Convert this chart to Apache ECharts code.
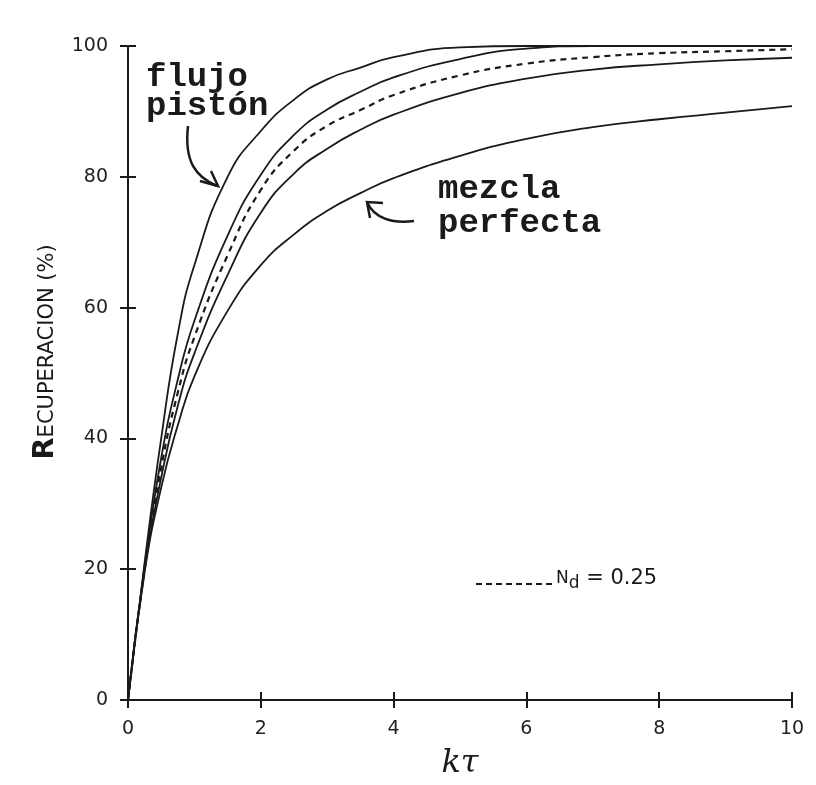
<!DOCTYPE html>
<html>
<head>
<meta charset="utf-8">
<script src="https://cdn.jsdelivr.net/npm/echarts@6/dist/echarts.min.js"></script>
<style>
  html, body { margin: 0; padding: 0; background: #fff; }
  #chart { width: 816px; height: 785px; }
</style>
</head>
<body>
<div id="chart"></div>
<script>
// kτ values where the curves were read
const kt = [0, 0.25, 0.5, 0.75, 1, 1.5, 2, 2.5, 3, 3.5, 4, 5, 6, 7, 8, 9, 10];

// Recuperación (%) for each curve
const flujoPiston = [0, 21, 40, 56, 66.5, 80, 87, 91.8, 94.9, 96.7, 98.3, 99.8, 100, 100, 100, 100, 100];
const curva2 = [0, 20.5, 37, 49, 58, 71, 80.3, 86.4, 90.3, 93, 95.2, 98, 99.6, 100, 100, 100, 100];
const nd025 = [0, 20, 35.5, 47, 55.5, 68, 78, 84, 87.8, 90.2, 92.5, 95.5, 97.3, 98.3, 98.9, 99.2, 99.5];
const curva4 = [0, 20, 34, 45, 53, 65, 74.5, 80.5, 84.3, 87.2, 89.5, 92.8, 95, 96.4, 97.2, 97.8, 98.2];
const mezclaPerfecta = [0, 19.5, 32.5, 42, 49.5, 59.5, 66.5, 71.2, 74.8, 77.5, 79.8, 83.2, 85.8, 87.6, 88.8, 89.8, 90.8];

// tick labels
const xTicks = [0, 2, 4, 6, 8, 10];
const yTicks = [0, 20, 40, 60, 80, 100];

const ink = '#1a1a1a';
const pairs = ys => kt.map((x, i) => [x, ys[i]]);

function curve(name, ys, dashed) {
  return {
    name: name,
    type: 'line',
    data: pairs(ys),
    smooth: 0.5,
    showSymbol: false,
    silent: true,
    lineStyle: { color: ink, width: dashed ? 2.2 : 1.8, type: dashed ? [6, 5] : 'solid' }
  };
}

const chart = echarts.init(document.getElementById('chart'));

const axisLine = { show: true, lineStyle: { color: ink, width: 2 } };
const tick = { show: true, inside: true, length: 8, lineStyle: { color: ink, width: 2 } };
const numFont = { color: '#222', fontFamily: 'DejaVu Sans', fontSize: 19 };

chart.setOption({
  animation: false,
  grid: { left: 128, right: 24, top: 46, bottom: 84 },
  xAxis: [
    {
      type: 'value', min: 0, max: 10, interval: 2, position: 'bottom',
      axisLine: axisLine, axisTick: tick, splitLine: { show: false },
      axisLabel: Object.assign({ margin: 20, formatter: v => xTicks.includes(v) ? String(v) : '' }, numFont),
      name: 'kτ', nameLocation: 'middle', nameGap: 48,
      nameTextStyle: { color: ink, fontFamily: 'DejaVu Serif', fontSize: 32, fontStyle: 'italic' }
    },
    {
      type: 'value', min: 0, max: 10, interval: 2, position: 'top',
      axisLine: axisLine, axisTick: tick, axisLabel: { show: false }, splitLine: { show: false }
    }
  ],
  yAxis: [
    {
      type: 'value', min: 0, max: 100, interval: 20, position: 'left',
      axisLine: axisLine, axisTick: tick, splitLine: { show: false },
      axisLabel: Object.assign({ margin: 20, formatter: v => yTicks.includes(v) ? String(v) : '' }, numFont)
    },
    {
      type: 'value', min: 0, max: 100, interval: 20, position: 'right',
      axisLine: axisLine, axisTick: tick, axisLabel: { show: false }, splitLine: { show: false }
    }
  ],
  series: [
    curve('flujo pistón', flujoPiston),
    curve('curva 2', curva2),
    curve('Nd = 0.25', nd025, true),
    curve('curva 4', curva4),
    curve('mezcla perfecta', mezclaPerfecta)
  ],
  graphic: [
    // título del eje y, en versalitas
    {
      type: 'text', x: 45, y: 352, rotation: Math.PI / 2,
      style: {
        text: '{big|R}{small|ECUPERACION (%)}', align: 'center', verticalAlign: 'middle',
        rich: {
          big: { fontFamily: 'DejaVu Sans', fontWeight: 'bold', fontSize: 29, fill: ink },
          small: { fontFamily: 'DejaVu Sans', fontSize: 21, fill: ink, padding: [5, 0, 0, 0] }
        }
      }
    },
    // etiquetas tipo máquina de escribir
    { type: 'text', left: 146, top: 60, style: { text: 'flujo', font: 'bold 34px "Liberation Mono"', fill: ink } },
    { type: 'text', left: 146, top: 89, style: { text: 'pistón', font: 'bold 34px "Liberation Mono"', fill: ink } },
    { type: 'text', left: 438, top: 172, style: { text: 'mezcla', font: 'bold 34px "Liberation Mono"', fill: ink } },
    { type: 'text', left: 438, top: 206, style: { text: 'perfecta', font: 'bold 34px "Liberation Mono"', fill: ink } },
    // flechas
    {
      type: 'bezierCurve', silent: true,
      shape: { x1: 188, y1: 126, cpx1: 184, cpy1: 162, cpx2: 196, cpy2: 177, x2: 217, y2: 186 },
      style: { stroke: ink, lineWidth: 2.5, fill: null }
    },
    {
      type: 'polyline', silent: true,
      shape: { points: [[200, 181], [218, 186], [211, 171]] },
      style: { stroke: ink, lineWidth: 2.5, fill: null }
    },
    {
      type: 'bezierCurve', silent: true,
      shape: { x1: 414, y1: 221, cpx1: 392, cpy1: 224, cpx2: 374, cpy2: 218, x2: 367, y2: 202 },
      style: { stroke: ink, lineWidth: 2.5, fill: null }
    },
    {
      type: 'polyline', silent: true,
      shape: { points: [[383, 203], [367, 202], [370, 218]] },
      style: { stroke: ink, lineWidth: 2.5, fill: null }
    },
    // leyenda Nd = 0.25
    {
      type: 'line', silent: true,
      shape: { x1: 476, y1: 584, x2: 552, y2: 584 },
      style: { stroke: ink, lineWidth: 2, lineDash: [6, 4] }
    },
    {
      type: 'text', left: 556, top: 568,
      style: {
        text: '{n|N}{d|d}{t| = 0.25}',
        rich: {
          n: { fontFamily: 'DejaVu Sans', fontSize: 17, fill: ink },
          d: { fontFamily: 'DejaVu Sans', fontSize: 17, fill: ink, padding: [10, 0, 0, 0] },
          t: { fontFamily: 'DejaVu Sans', fontSize: 21, fill: ink }
        }
      }
    }
  ]
});
</script>
</body>
</html>
